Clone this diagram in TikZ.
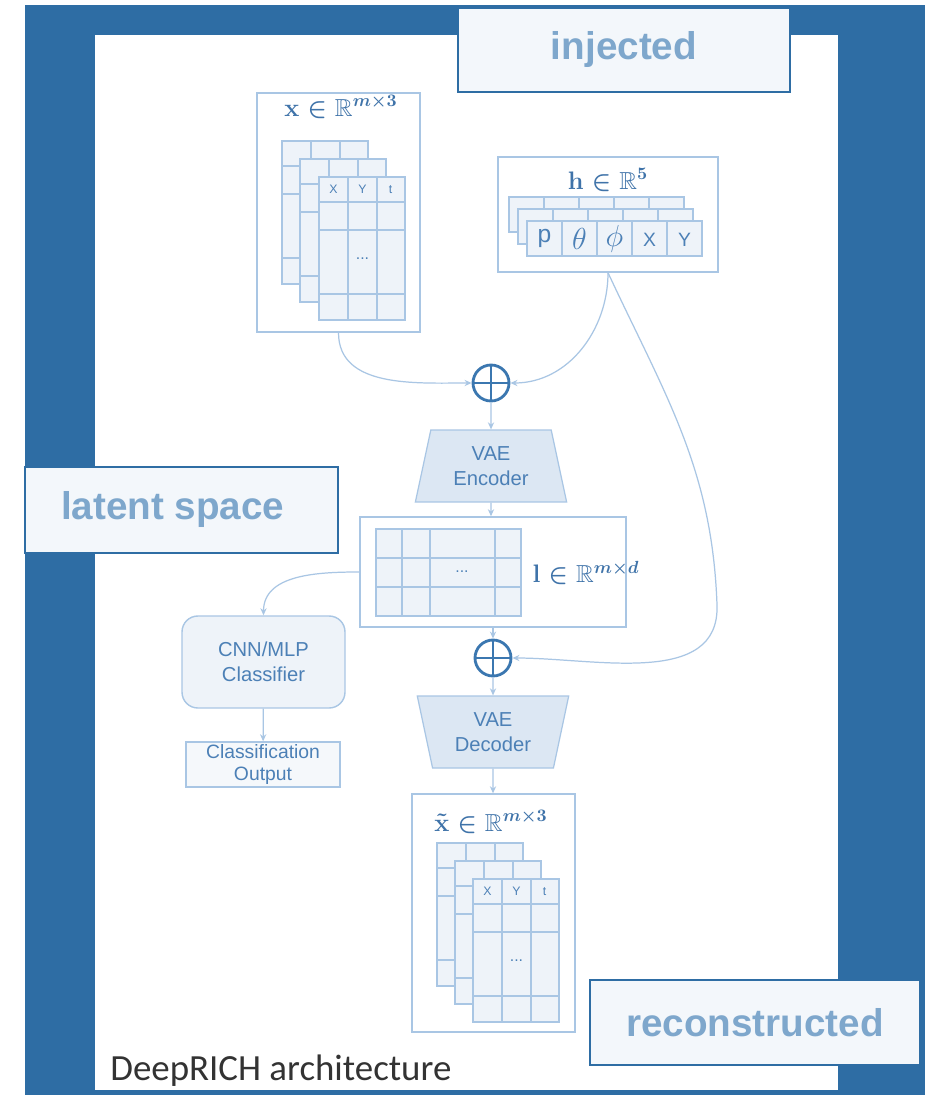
\documentclass[tikz,border=0pt]{standalone}
\usepackage{amsmath,amssymb}
\usepackage[no-math]{fontspec}
\setmainfont{Liberation Sans}
\newfontfamily\slidefont{Carlito}
\usetikzlibrary{arrows.meta, shapes.geometric}

\definecolor{frameblue}{HTML}{2E6DA4}
\definecolor{tagfill}{HTML}{F3F7FB}
\definecolor{tagtext}{HTML}{7EA7CC}
\definecolor{linecol}{HTML}{A9C6E4}
\definecolor{cellfill}{HTML}{EEF3F9}
\definecolor{coderfill}{HTML}{DCE7F3}
\definecolor{boxtext}{HTML}{4C80B6}
\definecolor{mathtext}{HTML}{3F73A9}
\definecolor{sumcol}{HTML}{3B77B0}

\tikzset{
    panel/.style={rectangle, draw=linecol, line width=0.8pt, fill=white, inner sep=0pt},
    cell/.style={draw=linecol, line width=0.7pt, fill=cellfill},
    flow/.style={-{Stealth[length=4pt, width=3.5pt]}, line width=0.7pt, draw=linecol},
    sumnode/.style={circle, draw=sumcol, line width=1.6pt, minimum size=0.72cm, inner sep=0pt,
        path picture={\draw[sumcol, line width=1.6pt]
            (path picture bounding box.north) -- (path picture bounding box.south)
            (path picture bounding box.west) -- (path picture bounding box.east);}},
    coder/.style={trapezium, trapezium stretches=true, trapezium angle=76,
        draw=linecol, fill=coderfill, line width=0.7pt, minimum height=1.44cm,
        minimum width=3.04cm, inner sep=0pt, align=center,
        font=\fontsize{11.5}{14}\selectfont, text=boxtext},
    mlbox/.style={rectangle, draw=linecol, fill=cellfill, line width=0.8pt, align=center,
        font=\fontsize{11.5}{14}\selectfont, text=boxtext, inner sep=0pt},
    title/.style={font=\fontsize{14}{16}\selectfont\boldmath, text=mathtext, inner sep=0pt},
    hdr/.style={font=\fontsize{7}{8}\selectfont, text=boxtext, inner sep=0pt},
    dots/.style={font=\fontsize{9}{10}\selectfont, text=boxtext, inner sep=0pt},
    param/.style={text=boxtext, inner sep=0pt},
    tag/.style={rectangle, draw=frameblue, line width=1.3pt, fill=tagfill, text=tagtext,
        font=\fontsize{22}{26}\selectfont\bfseries, inner sep=0pt}
}

%% stacked point table, top-left corner at (#1,#2)
\newcommand{\pointtable}[2]{%
    \draw[cell] (#1,#2) rectangle ++(86,143);
    \draw[cell, fill=none]
        ({#1+29},#2) -- ++(0,143) ({#1+58},#2) -- ++(0,143)
        (#1,{#2+25}) -- ++(86,0) (#1,{#2+53}) -- ++(86,0) (#1,{#2+117}) -- ++(86,0);
}
%% one row of five parameter cells, top-left corner at (#1,#2)
\newcommand{\paramrow}[2]{%
    \foreach \k in {0,...,4}
        \draw[cell] ({#1+35*\k},#2) rectangle ++(35,35);
}

\begin{document}
\begin{tikzpicture}[x=0.02cm, y=-0.02cm]
%% LAYOUT (pixel grid, y down):
%% x-box top left, h-box top right, sums + coders on centre column x~492
%% classifier left of latent box, reconstructed x-box at the bottom

\useasboundingbox (0,0) rectangle (935,1095);
\fill[white] (0,0) rectangle (935,1095);
\fill[frameblue] (25,5) rectangle (925,1095);
\fill[white] (95,35) rectangle (838,1090);

%% ── INPUTS ──────────────────────────────────────────────────────
\node[panel, minimum width=3.26cm, minimum height=4.78cm] (xbox) at (338.5,212.5) {};
\node[title] (xtitle) at (341,107) {$\mathbf{x}\in\mathbb{R}^{m\times 3}$};
\pointtable{282}{141}
\pointtable{300}{159}
\pointtable{319}{177}
\node[hdr] (xhx) at (333.5,189.5) {X};
\node[hdr] (xhy) at (362.5,189.5) {Y};
\node[hdr] (xht) at (390.5,189.5) {t};
\node[dots] (xdots) at (362.5,259) {...};

\node[panel, minimum width=4.4cm, minimum height=2.3cm] (hbox) at (608,214.5) {};
\node[title] (htitle) at (608,180) {$\mathbf{h}\in\mathbb{R}^{5}$};
\paramrow{509}{197}
\paramrow{518}{209}
\paramrow{527}{221}
\node[param, font=\fontsize{14}{16}\selectfont] (hp) at (544.5,238) {p};
\node[param, font=\fontsize{16}{18}\selectfont] (htheta) at (579.5,238.5) {$\theta$};
\node[param, font=\fontsize{16}{18}\selectfont] (hphi) at (614.5,238.5) {$\phi$};
\node[param, font=\fontsize{11}{13}\selectfont] (hx) at (649.5,240) {X};
\node[param, font=\fontsize{11}{13}\selectfont] (hy) at (684.5,240) {Y};

%% ── ENCODER ─────────────────────────────────────────────────────
\node[sumnode] (sum1) at (491,383) {};
\node[coder] (enc) at (491,466) {VAE\\Encoder};

\draw[flow] (xbox.south) to[out=-90, in=180] (sum1.west);
\draw[flow] (hbox.south) to[out=-90, in=0] (sum1.east);
\draw[flow] (sum1) -- (enc);

%% ── LATENT SPACE ────────────────────────────────────────────────
\node[panel, minimum width=5.32cm, minimum height=2.2cm] (latbox) at (493,572) {};
\draw[cell] (376,529) rectangle (521,616);
\draw[cell, fill=none]
    (402,529) -- (402,616) (430,529) -- (430,616) (495,529) -- (495,616)
    (376,558) -- (521,558) (376,587) -- (521,587);
\node[dots] (ldots) at (462,572) {...};
\node[title] (ltitle) at (586,573) {$\mathbf{l}\in\mathbb{R}^{m\times d}$};

\draw[flow] (enc) -- (latbox.north -| enc);

%% ── CLASSIFIER ──────────────────────────────────────────────────
\node[mlbox, rounded corners=9pt, minimum width=3.26cm, minimum height=1.84cm]
    (clf) at (263.5,662) {CNN/MLP\\Classifier};
\node[mlbox, fill=cellfill!60, minimum width=3.08cm, minimum height=0.9cm,
      font=\fontsize{11}{12.5}\selectfont]
    (clfout) at (263,764.5) {Classification\\Output};

\draw[flow] (latbox.west) to[out=180, in=90] (clf.north);
\draw[flow] (clf) -- (clfout);

%% ── DECODER ─────────────────────────────────────────────────────
\node[sumnode] (sum2) at (493,658) {};
\node[coder, shape border rotate=180] (dec) at (493,732) {VAE\\Decoder};
\coordinate (bend) at (717,605);

\draw[flow] (latbox.south -| sum2) -- (sum2);
\draw[flow] (hbox.south) to[out=-65, in=92] (bend) to[out=-88, in=0] (sum2.east);
\draw[flow] (sum2) -- (dec);

%% ── RECONSTRUCTED ───────────────────────────────────────────────
\node[panel, minimum width=3.26cm, minimum height=4.76cm] (xtbox) at (493.5,913) {};
\node[title] (xttitle) at (491,822) {$\tilde{\mathbf{x}}\in\mathbb{R}^{m\times 3}$};
\pointtable{437}{843}
\pointtable{455}{861}
\pointtable{473}{879}
\node[hdr] (xthx) at (487.5,891.5) {X};
\node[hdr] (xthy) at (516.5,891.5) {Y};
\node[hdr] (xtht) at (544.5,891.5) {t};
\node[dots] (xtdots) at (516.5,961) {...};

\draw[flow] (dec) -- (xtbox.north -| dec);

%% ── TAGS ────────────────────────────────────────────────────────
\node[tag, minimum width=6.64cm, minimum height=1.68cm] (taginj) at (624,50) {injected};
\node[tag, minimum width=6.26cm, minimum height=1.72cm] (taglat) at (181.5,510)
    {\hspace*{-0.35cm}latent space};
\node[tag, minimum width=6.6cm, minimum height=1.7cm] (tagrec) at (755,1022.5) {reconstructed};

\node[anchor=base west, inner sep=0pt, text=black!80,
      font=\slidefont\fontsize{21}{25}\selectfont] (caption) at (110,1080) {DeepRICH architecture};

\end{tikzpicture}
\end{document}
